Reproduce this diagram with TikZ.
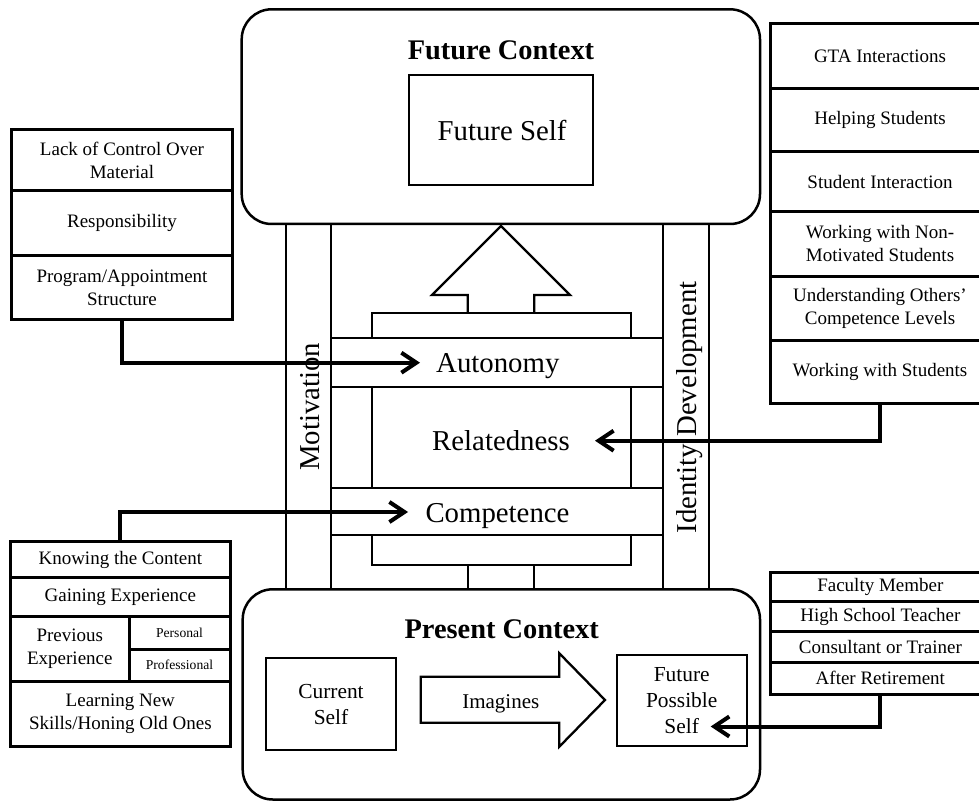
\documentclass[tikz,border=0pt]{standalone}
\usepackage{fontspec}
\setmainfont{Liberation Serif}
\usetikzlibrary{arrows.meta}
\newcommand{\fsz}[2]{\fontsize{#1}{#2}\selectfont}

\tikzset{
  % rectangle spanning the corners (x1,y1) and (x2,y2), with its text centred
  span/.style n args={4}{at={({(#1+#3)/2},{(#2+#4)/2})},
    minimum width={(#3-#1)*0.5pt}, minimum height={(#4-#2)*0.5pt}},
  frame/.style={draw, line width=1.15pt, inner sep=0pt},
  ctx/.style={draw, line width=1.25pt, rounded corners=15pt, inner sep=0pt},
  sidebox/.style={draw, line width=1.5pt, inner sep=0pt, align=center, font=\fsz{9.5}{11.5}},
  bigtxt/.style={inner sep=0pt, font=\fsz{14.4}{17}},
  titletxt/.style={inner sep=0pt, font=\fsz{14.2}{17}\bfseries},
  midtxt/.style={inner sep=0pt, align=center, font=\fsz{10.7}{13.1}},
  link/.style={line width=2pt, -{Straight Barb[length=7.5pt,width=10pt]}},
  blockarrow/.style={draw, line width=1.15pt, line join=miter}
}

\begin{document}
\begin{tikzpicture}[x=0.5pt,y=-0.5pt]
\useasboundingbox (0,0) rectangle (979,802);

% ---- the two contexts ----
\node[ctx, span={241.7}{9.3}{760}{224}] (future) {};
\node[ctx, span={242.7}{589.3}{760}{799.5}] (present) {};
\node[titletxt, anchor=base] (futuretitle) at (501,59.3) {Future Context};
\node[titletxt, anchor=base] (presenttitle) at (501.7,638.3) {Present Context};

% ---- future self ----
\node[frame, span={409}{74.7}{593.3}{185}] (fself) {};
\node[bigtxt, anchor=base] (fselftext) at (502,140.7) {Future Self};

% ---- columns linking the contexts ----
\node[frame, span={285.7}{224}{331}{589.3}] (motcol) {};
\node[frame, span={663.3}{224}{709}{589.3}] (idcol) {};
\node[bigtxt, rotate=90, anchor=base] (mottext) at (319.5,406.7) {Motivation};
\node[bigtxt, rotate=90, anchor=base] (idtext) at (696.5,407.5) {Identity Development};

% ---- needs structure ----
\node[frame, span={372.3}{313.3}{630.7}{338.3}] (topcap) {};
\node[frame, span={331}{338.3}{663.3}{386.7}] (autband) {};
\node[frame, span={372.3}{386.7}{630.7}{487.7}] (relbox) {};
\node[frame, span={331}{487.7}{663.3}{535}] (compband) {};
\node[frame, span={372.3}{535}{630.7}{565}] (botcap) {};
\draw[line width=1.15pt] (467.7,565) -- (467.7,589.3) (534.3,565) -- (534.3,589.3);

\node[bigtxt, anchor=base] (auttext) at (497.8,372.7) {Autonomy};
\node[bigtxt, anchor=base] (reltext) at (501,450.7) {Relatedness};
\node[bigtxt, anchor=base] (comptext) at (497.5,522.7) {Competence};

% upward block arrow into the future context
\draw[blockarrow] (467.7,313.3) -- (467.7,295) -- (432,295) -- (501,226)
  -- (570,295) -- (534.3,295) -- (534.3,313.3);

% ---- present context contents ----
\node[frame, span={266}{658.3}{396}{750}, midtxt] (cself) {Current\\Self};
\draw[blockarrow] (420.7,676.7) -- (559.3,676.7) -- (559.3,653.3) -- (605,700)
  -- (559.3,746.7) -- (559.3,722.7) -- (420.7,722.7) -- cycle;
\node[inner sep=0pt, font=\fsz{10.5}{13}, anchor=base] (imagines) at (500.8,708.3) {Imagines};
\node[frame, span={616.7}{655}{746.7}{745.7}, midtxt] (fpself) {Future\\Possible\\Self};

% ---- upper left list ----
\node[sidebox, span={11.7}{129.3}{232.3}{191}] (lack) {Lack of Control Over\\Material};
\node[sidebox, span={11.7}{191}{232.3}{255.7}] (resp) {Responsibility};
\node[sidebox, span={11.7}{255.7}{232.3}{319.3}] (prog) {Program/Appointment\\Structure};

% ---- lower left list ----
\node[sidebox, span={10.7}{541.7}{230}{577.7}] (knowing) {Knowing the Content};
\node[sidebox, span={10.7}{577.7}{230}{616}] (gaining) {Gaining Experience};
\node[sidebox, span={10.7}{616}{129}{681}] (previous) {Previous\\Experience};
\node[sidebox, span={129}{616}{230}{649.3}, font=\fsz{6.8}{8}] (personal) {Personal};
\node[sidebox, span={129}{649.3}{230}{681}, font=\fsz{6.8}{8}] (professional) {Professional};
\node[sidebox, span={10.7}{681}{230}{746}] (learning) {Learning New\\Skills/Honing Old Ones};

% ---- upper right list ----
\node[sidebox, span={770}{24}{990}{88.3}] (gta) {GTA Interactions};
\node[sidebox, span={770}{88.3}{990}{151.7}] (helping) {Helping Students};
\node[sidebox, span={770}{151.7}{990}{211.7}] (sinter) {Student Interaction};
\node[sidebox, span={770}{211.7}{990}{276}] (nonmot) {Working with Non-\\Motivated Students};
\node[sidebox, span={770}{276}{990}{340}] (others) {Understanding Others’\\Competence Levels};
\node[sidebox, span={770}{340}{990}{403.3}] (wstud) {Working with Students};

% ---- lower right list ----
\node[sidebox, span={770.7}{572.3}{990}{601.7}] (faculty) {Faculty Member};
\node[sidebox, span={770.7}{601.7}{990}{631.7}] (hsteach) {High School Teacher};
\node[sidebox, span={770.7}{631.7}{990}{662.3}] (consult) {Consultant or Trainer};
\node[sidebox, span={770.7}{662.3}{990}{694}] (retire) {After Retirement};

% ---- connectors ----
\coordinate (autin) at (420,362.7);
\coordinate (compin) at (408,512);
\coordinate (relin) at (595,440.7);
\coordinate (fpin) at (710.7,726.5);
\draw[link] (prog.south) |- (autin);
\draw[link] (knowing.north) |- (compin);
\draw[link] (wstud.south) |- (relin);
\draw[link] (retire.south) |- (fpin);
\end{tikzpicture}
\end{document}
